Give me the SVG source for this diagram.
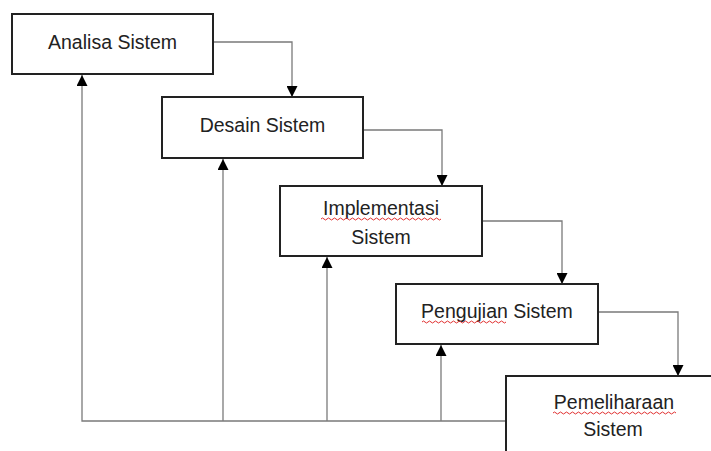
<svg xmlns="http://www.w3.org/2000/svg" width="711" height="451" viewBox="0 0 711 451">
<defs>
<style>
.box{fill:#fff;stroke:#222;stroke-width:2}
.lbl{font-family:"Liberation Sans",Arial,sans-serif;font-size:19.5px;fill:#222;text-anchor:middle}
.con{fill:none;stroke:#7a7a7a;stroke-width:1.3}
.sp{fill:none;stroke:#e03030;stroke-width:1}
</style>
<marker id="ah" viewBox="0 0 10 10" refX="10" refY="5" markerWidth="11" markerHeight="11" markerUnits="userSpaceOnUse" orient="auto">
<path d="M0,0 L10,5 L0,10 Z" fill="#000"/>
</marker>
</defs>
<rect width="711" height="451" fill="#fff"/>
<g id="connectors">
<path class="con" d="M213,42 H292 V97" marker-end="url(#ah)"/>
<path class="con" d="M363,130 H442 V186" marker-end="url(#ah)"/>
<path class="con" d="M482,221 H562 V284" marker-end="url(#ah)"/>
<path class="con" d="M598,312 H678 V376" marker-end="url(#ah)"/>
<path class="con" d="M506,421 H82 V75" marker-end="url(#ah)"/>
<path class="con" d="M223,421 V159" marker-end="url(#ah)"/>
<path class="con" d="M327,421 V257" marker-end="url(#ah)"/>
<path class="con" d="M441,421 V345" marker-end="url(#ah)"/>
</g>
<g id="analisa">
<rect class="box" x="12" y="14" width="201" height="60"/>
<text class="lbl" x="112.5" y="49">Analisa Sistem</text>
</g>
<g id="desain">
<rect class="box" x="162" y="97" width="201" height="61"/>
<text class="lbl" x="262.5" y="132">Desain Sistem</text>
</g>
<g id="implementasi">
<rect class="box" x="280" y="186" width="202" height="70"/>
<text class="lbl" x="381" y="215">Implementasi</text>
<text class="lbl" x="381" y="244">Sistem</text>
<path class="sp" d="M321,219 q1.5,-2 3,0 t3,0 t3,0 t3,0 t3,0 t3,0 t3,0 t3,0 t3,0 t3,0 t3,0 t3,0 t3,0 t3,0 t3,0 t3,0 t3,0 t3,0 t3,0 t3,0 t3,0 t3,0 t3,0 t3,0 t3,0 t3,0 t3,0 t3,0 t3,0 t3,0 t3,0 t3,0 t3,0 t3,0 t3,0 t3,0 t3,0 t3,0 t3,0 t3,0"/>
</g>
<g id="pengujian">
<rect class="box" x="396" y="284" width="202" height="60"/>
<text class="lbl" x="497" y="318">Pengujian Sistem</text>
<path class="sp" d="M422,322 q1.5,-2 3,0 t3,0 t3,0 t3,0 t3,0 t3,0 t3,0 t3,0 t3,0 t3,0 t3,0 t3,0 t3,0 t3,0 t3,0 t3,0 t3,0 t3,0 t3,0 t3,0 t3,0 t3,0 t3,0 t3,0 t3,0 t3,0 t3,0 t3,0"/>
</g>
<g id="pemeliharaan">
<rect class="box" x="506" y="376" width="210" height="80"/>
<text class="lbl" x="614" y="409">Pemeliharaan</text>
<text class="lbl" x="613" y="436">Sistem</text>
<path class="sp" d="M553,413 q1.5,-2 3,0 t3,0 t3,0 t3,0 t3,0 t3,0 t3,0 t3,0 t3,0 t3,0 t3,0 t3,0 t3,0 t3,0 t3,0 t3,0 t3,0 t3,0 t3,0 t3,0 t3,0 t3,0 t3,0 t3,0 t3,0 t3,0 t3,0 t3,0 t3,0 t3,0 t3,0 t3,0 t3,0 t3,0 t3,0 t3,0 t3,0 t3,0 t3,0 t3,0 t3,0"/>
</g>
</svg>
